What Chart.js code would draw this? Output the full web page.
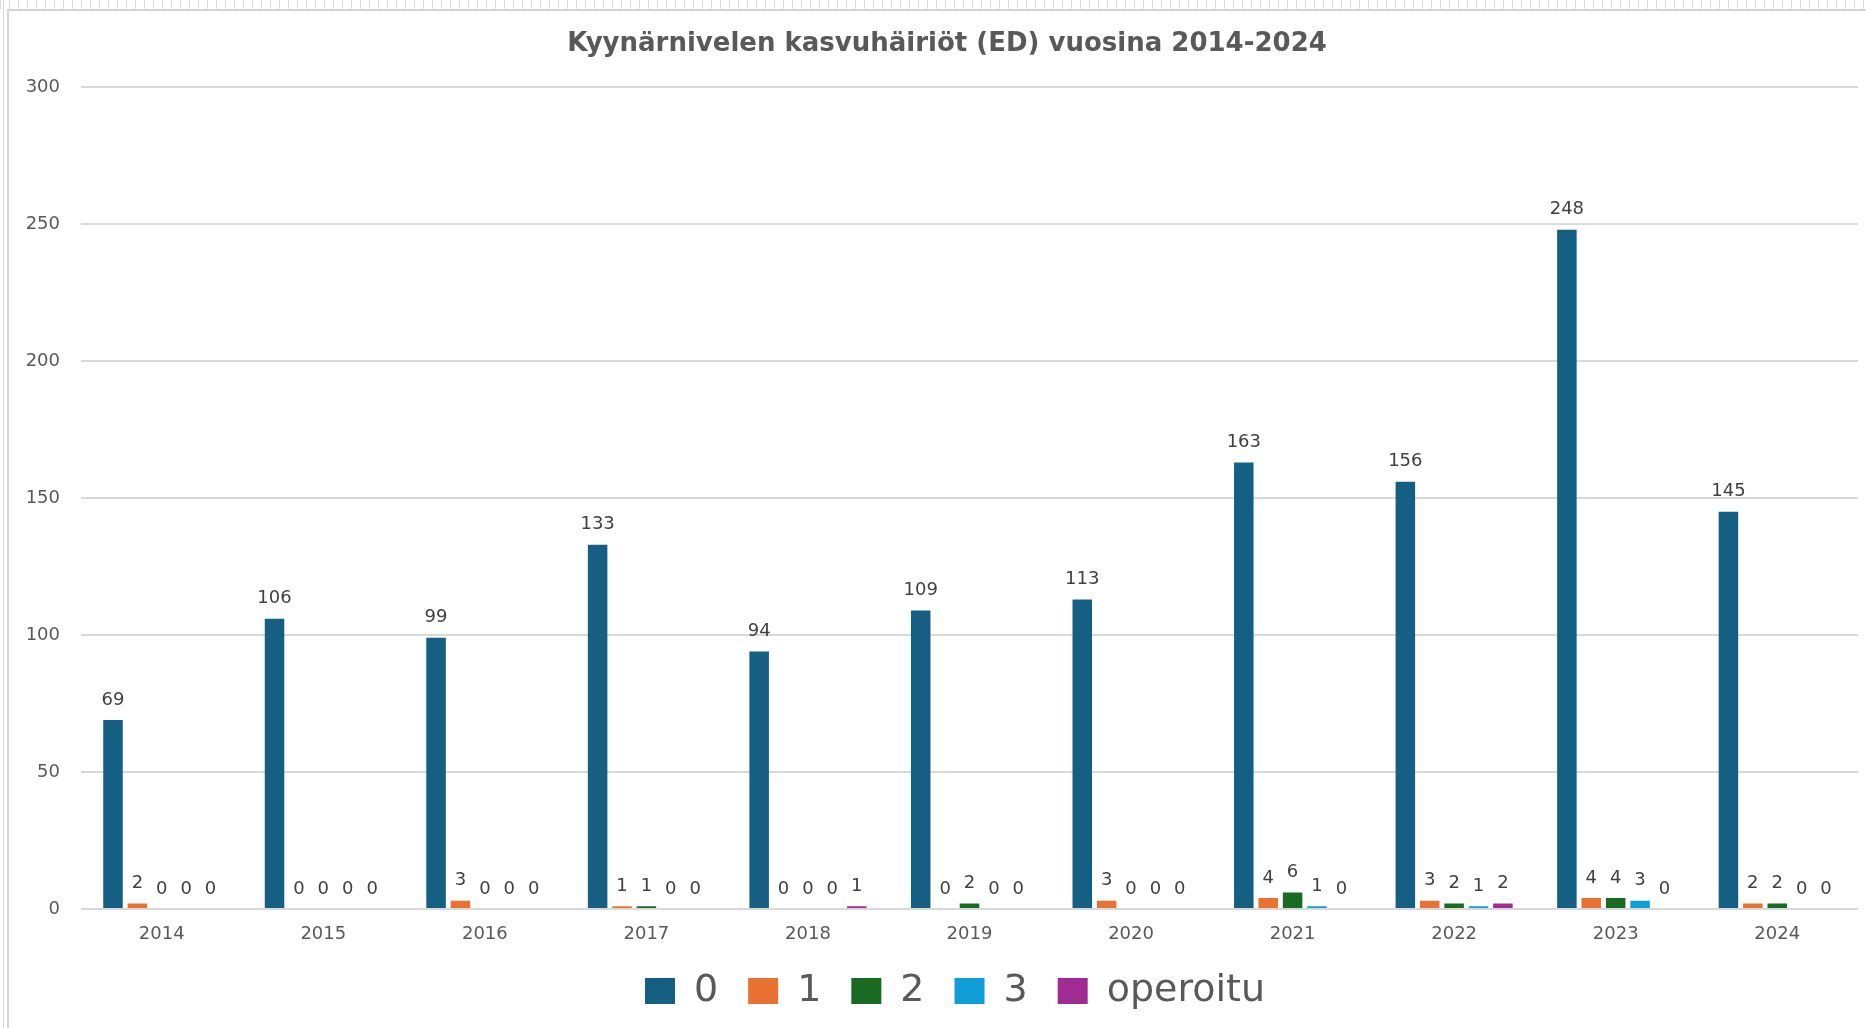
<!DOCTYPE html>
<html>
<head>
<meta charset="utf-8">
<title>Kyynärnivelen kasvuhäiriöt (ED) vuosina 2014-2024</title>
<script src="https://cdn.jsdelivr.net/npm/chart.js@4.4.1/dist/chart.umd.min.js"></script>
<style>
    body { margin: 0; background: #ffffff; }
    #wrap { position: relative; width: 1866px; height: 1028px; overflow: hidden; }
    .band { position: absolute; top: 0; left: 0; width: 1866px; height: 9px;
        background: repeating-linear-gradient(to right, #dcdcdc 0 1px, transparent 1px 9px); }
    .hline { position: absolute; top: 9px; left: 7px; right: 0; height: 2px; background: #d6d6d6; }
    .vline1 { position: absolute; top: 0; left: 3px; width: 1px; height: 1028px; background: #d6d6d6; }
    .vline2 { position: absolute; top: 9px; left: 7px; width: 2px; height: 1019px; background: #d6d6d6; }
    canvas { position: absolute; top: 0; left: 0; }
</style>
</head>
<body>
<div id="wrap">
    <div class="band"></div>
    <div class="hline"></div>
    <div class="vline1"></div>
    <div class="vline2"></div>
    <canvas id="chart" width="1866" height="1028"></canvas>
</div>
<script>
// vuodet
const vuodet = ["2014", "2015", "2016", "2017", "2018", "2019", "2020", "2021", "2022", "2023", "2024"];

// ED-luokat
const luokka0 = [69, 106, 99, 133, 94, 109, 113, 163, 156, 248, 145];
const luokka1 = [2, 0, 3, 1, 0, 0, 3, 4, 3, 4, 2];
const luokka2 = [0, 0, 0, 1, 0, 2, 0, 6, 2, 4, 2];
const luokka3 = [0, 0, 0, 0, 0, 0, 0, 1, 1, 3, 0];
const operoitu = [0, 0, 0, 0, 1, 0, 0, 0, 2, 0, 0];

const yTicks = [0, 50, 100, 150, 200, 250, 300];

const sarjat = [
    { label: "0", data: luokka0, color: "#156082" },
    { label: "1", data: luokka1, color: "#E97132" },
    { label: "2", data: luokka2, color: "#196B24" },
    { label: "3", data: luokka3, color: "#0F9ED5" },
    { label: "operoitu", data: operoitu, color: "#A02B93" }
];

const harmaa = "#595959";
const fontti = "'DejaVu Sans', sans-serif";

// arvot pylväiden päälle
const arvoLabelit = {
    id: "arvoLabelit",
    afterDatasetsDraw(chart) {
        const ctx = chart.ctx;
        ctx.save();
        ctx.font = "18px " + fontti;
        ctx.fillStyle = "#404040";
        ctx.textAlign = "center";
        ctx.textBaseline = "middle";
        chart.data.datasets.forEach((ds, i) => {
            const meta = chart.getDatasetMeta(i);
            meta.data.forEach((bar, j) => {
                ctx.fillText(String(ds.data[j]), bar.x, bar.y - 20);
            });
        });
        ctx.restore();
    }
};

// otsikko ja selite vähän oikealle, kuten alkuperäisessä
const siirto = {
    id: "siirto",
    afterLayout(chart) {
        if (chart.titleBlock) {
            chart.titleBlock.left += 7;
            chart.titleBlock.right += 7;
        }
        if (chart.legend) {
            chart.legend.left += 15;
            chart.legend.right += 15;
        }
    }
};

const ctx = document.getElementById("chart").getContext("2d");
new Chart(ctx, {
    type: "bar",
    data: {
        labels: vuodet,
        datasets: sarjat.map(s => ({
            label: s.label,
            data: s.data,
            backgroundColor: s.color,
            borderWidth: 0,
            categoryPercentage: 0.755,
            barPercentage: 0.8
        }))
    },
    options: {
        responsive: false,
        animation: false,
        devicePixelRatio: 1,
        layout: { padding: { left: 22, right: 8, top: 0, bottom: 8 } },
        plugins: {
            title: {
                display: true,
                text: "Kyynärnivelen kasvuhäiriöt (ED) vuosina 2014-2024",
                color: harmaa,
                font: { family: fontti, size: 26, weight: "bold" },
                padding: { top: 29, bottom: 27 }
            },
            legend: {
                position: "bottom",
                labels: {
                    color: harmaa,
                    font: { family: fontti, size: 38 },
                    boxWidth: 30,
                    boxHeight: 26,
                    padding: 30
                }
            },
            tooltip: { enabled: false }
        },
        scales: {
            x: {
                grid: { display: false, drawTicks: false },
                border: { display: false },
                ticks: {
                    color: harmaa,
                    font: { family: fontti, size: 18, lineHeight: 1 },
                    padding: 16
                },
                afterFit(scale) { scale.height = 33; }
            },
            y: {
                min: 0,
                max: 300,
                afterBuildTicks(scale) { scale.ticks = yTicks.map(v => ({ value: v })); },
                grid: { color: "#d9d9d9", lineWidth: 2, drawTicks: false },
                border: { display: false },
                ticks: {
                    color: harmaa,
                    font: { family: fontti, size: 18 },
                    padding: 21
                },
                afterFit(scale) { scale.width = 59; }
            }
        }
    },
    plugins: [arvoLabelit, siirto]
});
</script>
</body>
</html>
